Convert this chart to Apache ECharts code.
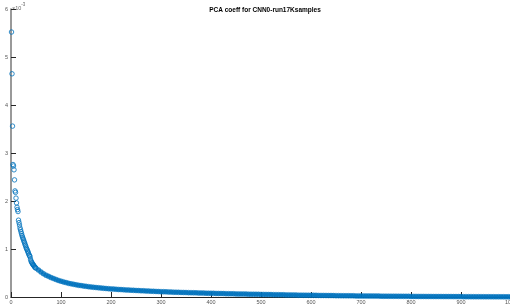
<!DOCTYPE html>
<html>
<head>
<meta charset="utf-8">
<script src="https://cdn.jsdelivr.net/npm/echarts@6/dist/echarts.min.js"></script>
<style>
  html, body { margin: 0; padding: 0; background: #fff; }
  #chart { width: 510px; height: 307px; }
</style>
</head>
<body>
<div id="chart"></div>
<script>
// values are in units of 1e-3
const titleText = 'PCA coeff for CNN0-run17Ksamples';
const yTicks = [0, 1, 2, 3, 4, 5, 6];
const xTicks = [0, 100, 200, 300, 400, 500, 600, 700, 800, 900, 1000];

// components 1..50, one value each
const headVal = [
  5.52, 4.65, 3.56, 2.76, 2.73, 2.65, 2.44, 2.21, 2.18, 2.06,
  1.96, 1.87, 1.82, 1.78, 1.60, 1.55, 1.50, 1.44, 1.40, 1.36,
  1.32, 1.28, 1.25, 1.22, 1.19, 1.16, 1.13, 1.10, 1.07, 1.04,
  1.01, 0.99, 0.96, 0.94, 0.91, 0.88, 0.86, 0.84, 0.79, 0.75,
  0.73, 0.71, 0.69, 0.68, 0.66, 0.65, 0.63, 0.62, 0.61, 0.60
];

// components 55..1000, every 5th
const tailStart = 55;
const tailStep = 5;
const tailVal = [
  0.560, 0.520, 0.485, 0.455, 0.430, 0.405, 0.385, 0.365, 0.345, 0.330,
  0.315, 0.300, 0.285, 0.275, 0.265, 0.255, 0.245, 0.237, 0.229, 0.222,
  0.215, 0.209, 0.203, 0.197, 0.192, 0.187, 0.182, 0.177, 0.173, 0.169,
  0.165, 0.161, 0.157, 0.154, 0.151, 0.148, 0.145, 0.142, 0.139, 0.136,
  0.133, 0.130, 0.128, 0.125, 0.123, 0.120, 0.118, 0.116, 0.113, 0.111,
  0.109, 0.107, 0.105, 0.103, 0.101, 0.099, 0.097, 0.096, 0.094, 0.092,
  0.091, 0.089, 0.087, 0.086, 0.084, 0.083, 0.081, 0.080, 0.078, 0.077,
  0.076, 0.074, 0.073, 0.072, 0.071, 0.069, 0.068, 0.067, 0.066, 0.065,
  0.063, 0.062, 0.061, 0.060, 0.059, 0.058, 0.057, 0.056, 0.055, 0.054,
  0.053, 0.052, 0.051, 0.050, 0.049, 0.048, 0.047, 0.046, 0.045, 0.044,
  0.043, 0.042, 0.041, 0.040, 0.039, 0.039, 0.038, 0.037, 0.036, 0.035,
  0.035, 0.034, 0.033, 0.032, 0.032, 0.031, 0.030, 0.030, 0.029, 0.028,
  0.028, 0.027, 0.026, 0.026, 0.025, 0.025, 0.024, 0.023, 0.023, 0.022,
  0.022, 0.021, 0.021, 0.020, 0.020, 0.019, 0.019, 0.018, 0.018, 0.017,
  0.017, 0.016, 0.016, 0.016, 0.015, 0.015, 0.014, 0.014, 0.014, 0.013,
  0.013, 0.013, 0.012, 0.012, 0.012, 0.011, 0.011, 0.011, 0.010, 0.010,
  0.010, 0.010, 0.009, 0.009, 0.009, 0.009, 0.008, 0.008, 0.008, 0.008,
  0.007, 0.007, 0.007, 0.007, 0.006, 0.006, 0.006, 0.006, 0.005, 0.005,
  0.005, 0.005, 0.004, 0.004, 0.004, 0.004, 0.003, 0.003, 0.003, 0.002
];

const headPoints = headVal.map((v, i) => [i + 1, v]);
const tailPoints = tailVal.map((v, i) => [tailStart + i * tailStep, v]);

const chart = echarts.init(document.getElementById('chart'));

const option = {
  animation: false,
  backgroundColor: '#fff',
  title: {
    text: titleText,
    left: 260,
    textAlign: 'center',
    top: 2,
    textStyle: { fontSize: 6.5, fontWeight: 'bold', color: '#000', fontFamily: 'Liberation Sans' }
  },
  graphic: [{
    type: 'text',
    left: 12,
    top: 2,
    style: {
      text: '{a|×10}{b|-3}',
      rich: {
        a: { fontSize: 5.5, fill: '#666', fontFamily: 'Liberation Sans', padding: [3, 0, 0, 0] },
        b: { fontSize: 4.5, fill: '#666', fontFamily: 'Liberation Sans', verticalAlign: 'top' }
      }
    }
  }],
  grid: {
    left: 11, right: -1, top: 9, bottom: 10,
    containLabel: false,
    outerBoundsMode: 'none'
  },
  xAxis: {
    type: 'value',
    min: 0,
    max: 1000,
    interval: 100,
    axisLine: { show: true, lineStyle: { color: '#262626', width: 1 } },
    axisTick: { show: true, inside: true, length: 5, lineStyle: { color: '#262626' } },
    axisLabel: {
      fontSize: 5.5, color: '#555', margin: 2, fontFamily: 'Liberation Sans',
      formatter: v => (xTicks.includes(v) ? String(v) : '')
    },
    splitLine: { show: false }
  },
  yAxis: {
    type: 'value',
    min: 0,
    max: 6,
    interval: 1,
    axisLine: { show: true, lineStyle: { color: '#777', width: 1.5 } },
    axisTick: { show: true, inside: true, length: 5, lineStyle: { color: '#262626' } },
    axisLabel: {
      fontSize: 5.5, color: '#555', margin: 3, fontFamily: 'Liberation Sans',
      formatter: v => (yTicks.includes(v) ? String(v) : '')
    },
    splitLine: { show: false }
  },
  series: [
    {
      type: 'scatter',
      data: headPoints,
      symbol: 'circle',
      symbolSize: 4.5,
      clip: false,
      itemStyle: { color: 'rgba(0,0,0,0)', borderColor: '#0072BD', borderWidth: 1 }
    },
    {
      type: 'scatter',
      data: tailPoints,
      symbol: 'circle',
      symbolSize: 5,
      clip: false,
      itemStyle: { color: '#0072BD', borderColor: '#0072BD', borderWidth: 0.5 }
    }
  ]
};

option && chart.setOption(option);
window.addEventListener('resize', () => {
  chart.resize();
});
</script>
</body>
</html>
